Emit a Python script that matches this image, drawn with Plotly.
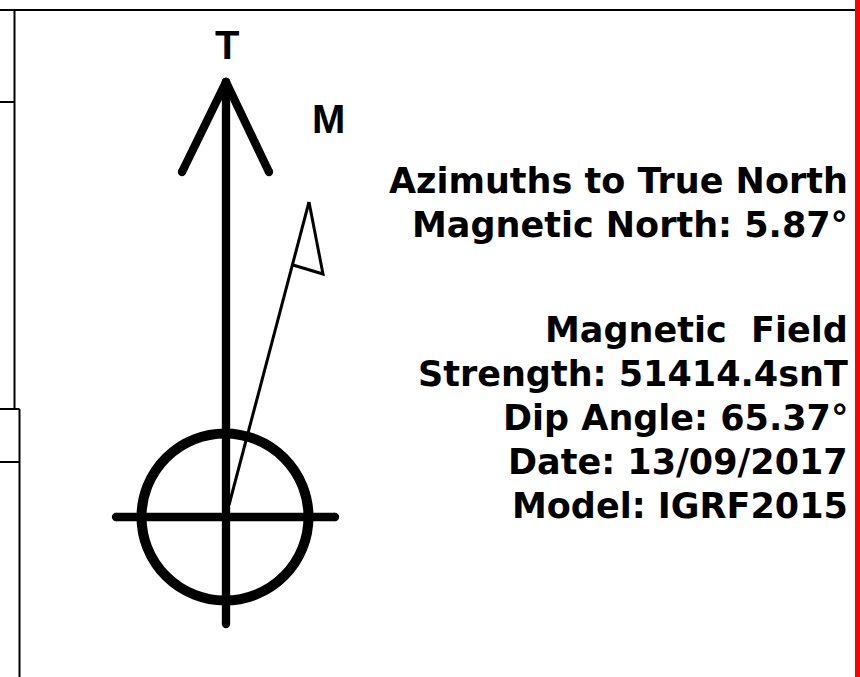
import plotly.graph_objects as go

W, H = 860, 677

# ---- text content ----
TEXT_BLOCK_1 = ["Azimuths to True North", "Magnetic North: 5.87°"]
TEXT_BLOCK_2 = ["Magnetic\u00a0 Field", "Strength: 51414.4snT", "Dip Angle: 65.37°",
                "Date: 13/09/2017", "Model: IGRF2015"]
LABEL_TRUE = "T"
LABEL_MAG = "M"

# ---- diagram geometry (page units, y grows downward) ----
TRUE_SHAFT_X = [226, 226]
TRUE_SHAFT_Y = [82, 624]
TRUE_HEAD_X = [182, 226, 269]
TRUE_HEAD_Y = [172, 82, 172]
CROSS_X = [116, 335]
CROSS_Y = [517, 517]
CIRCLE_CX, CIRCLE_CY, CIRCLE_R = 225, 517, 83.5
MAG_LINE_X = [229, 309]
MAG_LINE_Y = [505, 202]
MAG_HEAD_X = [309, 323, 293]
MAG_HEAD_Y = [202, 274, 265]

# ---- page frame ----
FRAME_TOP = dict(x=[0, 855], y=[10, 10])
FRAME_LEFT_SEGMENTS = [
    ([14.5, 14.5], [10, 409]),
    ([0, 14.5], [102, 102]),
    ([0, 19.5], [409, 409]),
    ([19.5, 19.5], [409, 677]),
    ([0, 19.5], [462, 462]),
]
RED_EDGE = dict(x=[857.5, 857.5], y=[0, 677])

fig = go.Figure()


def polyline(xs, ys, width, color="black", caps=True):
    fig.add_trace(go.Scatter(
        x=xs, y=ys, mode="lines+markers" if caps else "lines",
        line=dict(color=color, width=width),
        marker=dict(size=width, color=color, line=dict(width=0)),
        hoverinfo="skip", showlegend=False, cliponaxis=False))


# frame
polyline(FRAME_TOP["x"], FRAME_TOP["y"], 2, caps=False)
for sx, sy in FRAME_LEFT_SEGMENTS:
    polyline(sx, sy, 2, caps=False)
polyline(RED_EDGE["x"], RED_EDGE["y"], 5, color="#ff0000", caps=False)

# circle
fig.add_shape(type="circle", xref="x", yref="y",
              x0=CIRCLE_CX - CIRCLE_R, x1=CIRCLE_CX + CIRCLE_R,
              y0=CIRCLE_CY - CIRCLE_R, y1=CIRCLE_CY + CIRCLE_R,
              line=dict(color="black", width=10), fillcolor="rgba(0,0,0,0)")

# true north arrow
polyline(TRUE_SHAFT_X, TRUE_SHAFT_Y, 8.3)
polyline([TRUE_HEAD_X[0], TRUE_HEAD_X[1]], [TRUE_HEAD_Y[0], TRUE_HEAD_Y[1]], 8.3)
polyline([TRUE_HEAD_X[1], TRUE_HEAD_X[2]], [TRUE_HEAD_Y[1], TRUE_HEAD_Y[2]], 8.3)
polyline(CROSS_X, CROSS_Y, 8.3)

# magnetic north arrow
polyline(MAG_LINE_X, MAG_LINE_Y, 3, caps=False)
polyline(MAG_HEAD_X, MAG_HEAD_Y, 3, caps=False)

# labels
lab_font = dict(family="Liberation Sans, Arial, sans-serif", size=40, color="black", weight="bold")
fig.add_annotation(x=227, y=45, text=LABEL_TRUE, showarrow=False, font=lab_font,
                   xanchor="center", yanchor="middle")
fig.add_annotation(x=328, y=118.5, text=LABEL_MAG, showarrow=False, font=lab_font,
                   xanchor="center", yanchor="middle")

# text blocks, one annotation per line
txt_font = dict(family="DejaVu Sans, sans-serif", size=35, color="black", weight="bold")
LINE_PITCH = 44.1
TEXT_RIGHT = 850
for start, block in ((180.6, TEXT_BLOCK_1), (329.6, TEXT_BLOCK_2)):
    for i, line in enumerate(block):
        fig.add_annotation(x=TEXT_RIGHT, y=start + i * LINE_PITCH, text=line,
                           showarrow=False, font=txt_font, xanchor="right",
                           yanchor="middle", align="right")

fig.update_xaxes(range=[0, W], visible=False, fixedrange=True)
fig.update_yaxes(range=[H, 0], visible=False, fixedrange=True)
fig.update_layout(width=W, height=H, margin=dict(l=0, r=0, t=0, b=0),
                  paper_bgcolor="white", plot_bgcolor="white",
                  showlegend=False, hovermode=False)

fig.write_html("out.html", config={"displayModeBar": False},
               post_script="document.body.style.margin='0';document.body.style.overflow='hidden';")
